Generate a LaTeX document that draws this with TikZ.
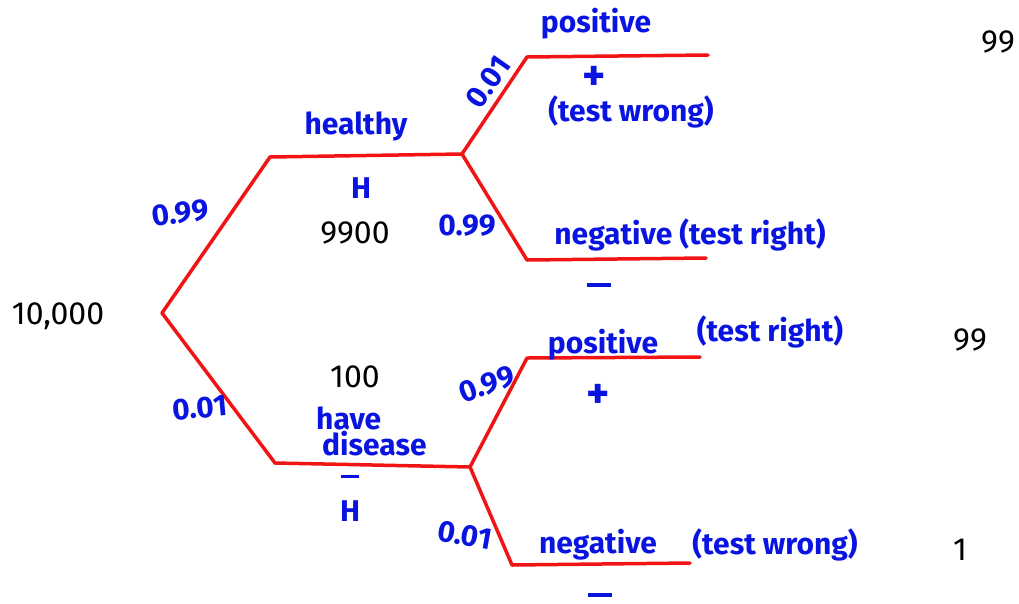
\documentclass[tikz,border=0pt]{standalone}
\usepackage{fontspec}
\setmainfont{Fira Sans}
\definecolor{penblue}{RGB}{10,20,225}
\definecolor{penred}{RGB}{240,20,20}
\tikzset{
  branch/.style={draw=penred, line width=3.5pt, line join=round, line cap=round},
  lbl/.style={text=penblue, font=\fontsize{30}{34}\selectfont\bfseries, inner sep=0pt},
  sign/.style={text=penblue, font=\fontsize{44}{44}\selectfont\bfseries, inner sep=0pt},
  num/.style={text=black, font=\fontsize{32}{36}\selectfont, inner sep=0pt},
}
\begin{document}
\begin{tikzpicture}[x=1pt, y=-1pt]
\useasboundingbox (0,0) rectangle (1019,603);

% tree joints
\coordinate (root) at (162,313);
\coordinate (hk) at (270,157);
\coordinate (hj) at (462,154);
\coordinate (dk) at (275,463);
\coordinate (dj) at (470,467);
\coordinate (ppk) at (527,57);
\coordinate (ppe) at (708,55);
\coordinate (pnk) at (527,260);
\coordinate (pne) at (706,258);
\coordinate (dpk) at (527,358);
\coordinate (dpe) at (700,357);
\coordinate (dnk) at (512,565);
\coordinate (dne) at (690,563);

% branches
\draw[branch] (root) -- (hk) -- (hj);
\draw[branch] (root) -- (dk) -- (dj);
\draw[branch] (hj) -- (ppk) -- (ppe);
\draw[branch] (hj) -- (pnk) -- (pne);
\draw[branch] (dj) -- (dpk) -- (dpe);
\draw[branch] (dj) -- (dnk) -- (dne);

% population
\node[num] (total) at (58,316) {10,000};

% first split
\node[lbl, rotate=8] (pH) at (180,213) {0.99};
\node[lbl] (healthy) at (356,126) {healthy};
\node[lbl] (H) at (361,188) {H};
\node[num] (nH) at (355,233) {9900};

\node[lbl, rotate=5] (pD) at (200,408) {0.01};
\node[num] (nD) at (355,377) {100};
\node[lbl, anchor=west] (have) at (316,418) {have};
\node[lbl, anchor=west] (disease) at (322,444) {disease};
\node[lbl, align=center] (Hbar) at (350,498) {\rule{18pt}{3pt}\\[10pt]H};

% healthy: test results
\node[lbl, rotate=55] (pHP) at (488,82) {0.01};
\node[lbl] (posA) at (596,24) {positive};
\node[sign] (plusA) at (594,78) {+};
\node[lbl] (wrongA) at (631,112) {(test wrong)};
\node[num] (nHP) at (998,42) {99};

\node[lbl] (pHN) at (467,226) {0.99};
\node[lbl] (negA) at (690,235) {negative (test right)};
\node[lbl] (minusA) at (599,285) {\rule{24pt}{3.5pt}};

% disease: test results
\node[lbl, rotate=20] (pDP) at (487,384) {0.99};
\node[lbl] (posB) at (603,345) {positive};
\node[lbl] (rightB) at (770,332) {(test right)};
\node[sign] (plusB) at (598,396) {+};
\node[num] (nDP) at (970,340) {99};

\node[lbl, rotate=-10] (pDN) at (465,535) {0.01};
\node[lbl] (negB) at (598,545) {negative};
\node[lbl] (wrongB) at (775,545) {(test wrong)};
\node[lbl] (minusB) at (600,595) {\rule{24pt}{3.5pt}};
\node[num] (nDN) at (960,550) {1};
\end{tikzpicture}
\end{document}
